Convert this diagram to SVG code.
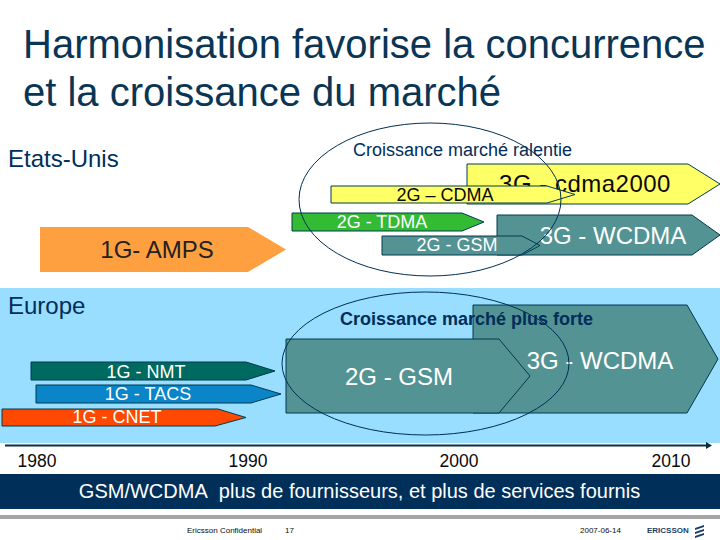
<svg xmlns="http://www.w3.org/2000/svg" width="720" height="540" viewBox="0 0 720 540">
<style>
text{font-family:"Liberation Sans",Arial,sans-serif}
.dk{fill:#002e5a}
.blk{fill:#0a0a0a}
.wh{fill:#fff}
.ar{stroke:#003a50;stroke-width:1}
.yl{fill:#ffff66}
.tl{fill:#549393}
.el{fill:none;stroke:#003056;stroke-width:1}
.m{text-anchor:middle}
</style>
<rect width="720" height="540" fill="#fff"/>
<rect x="0" y="288" width="720" height="155" fill="#99ddff"/>
<rect x="0" y="474" width="720" height="35" fill="#00305a"/>
<rect x="0" y="515" width="720" height="4" fill="#a5a5a5"/>
<g id="title"><text x="23" y="58" font-size="40" fill="#0a3555">Harmonisation favorise la concurrence</text><text x="23" y="106" font-size="40" fill="#0a3555">et la croissance du marché</text></g>
<g id="labels">
<text x="8" y="167" font-size="24" class="dk">Etats-Unis</text>
<text x="8" y="314" font-size="24" class="dk">Europe</text>
<text x="353" y="156" font-size="18" class="dk">Croissance marché ralentie</text>
</g>
<g id="n-1g-amps"><polygon fill="#ffa040" points="40,227 248,227 286,249.500 248,272 40,272"/><text x="157" y="258" font-size="24" class="m" fill="#222">1G- AMPS</text></g>
<g id="n-3g-cdma"><polygon class="ar yl" points="467,164 688,164 720,184 688,204 467,204"/><text x="585" y="192" font-size="24" class="m blk" letter-spacing=".5">3G - cdma2000</text></g>
<g id="n-2g-cdma"><polygon class="ar yl" points="331,186 547,186 575,194.500 547,203 331,203"/><text x="445" y="201" font-size="18" class="m blk">2G – CDMA</text></g>
<g id="n-2g-tdma"><polygon class="ar" fill="#33bb33" points="292,213 462,213 484,222 462,231 292,231"/><text x="382" y="228" font-size="18" class="m wh">2G - TDMA</text></g>
<g id="n-3g-wcdma-us"><polygon class="ar tl" points="497,215 692,215 720,235 692,255 497,255"/><text x="613" y="244" font-size="24" class="m wh">3G - WCDMA</text></g>
<g id="n-2g-gsm-us"><polygon class="ar tl" points="382,236 522,236 540,245.500 522,255 382,255"/><text x="457" y="251" font-size="18" class="m wh">2G - GSM</text></g>
<g id="n-1g-nmt"><polygon class="ar" fill="#006a60" points="31,362 246,362 275,371 246,380 31,380"/><text x="146" y="378" font-size="18" class="m wh">1G - NMT</text></g>
<g id="n-1g-tacs"><polygon class="ar" fill="#0a85c8" points="36,385 251,385 281,394 251,403 36,403"/><text x="148" y="400" font-size="18" class="m wh">1G - TACS</text></g>
<g id="n-1g-cnet"><polygon class="ar" fill="#ff4800" points="2,409 218,409 246,417.500 215,426 2,426"/><text x="117" y="423" font-size="18" class="m wh">1G - CNET</text></g>
<g id="n-3g-wcdma-eu"><polygon class="ar tl" points="473,305 687,305 718,359 687,413 473,413"/><text x="600" y="369" font-size="24" class="m wh">3G - WCDMA</text></g>
<g id="n-2g-gsm-eu"><polygon class="ar tl" points="286,339 499,339 530,376 499,413 286,413"/><text x="399" y="385" font-size="24" class="m wh">2G - GSM</text></g>
<text x="340" y="325" font-size="18" font-weight="bold" class="dk">Croissance marché plus forte</text>
<g id="connectors">
<ellipse class="el" cx="430" cy="199.500" rx="131" ry="76.500"/>
<ellipse class="el" cx="425.500" cy="363.500" rx="143.500" ry="71.500"/>
<line x1="5" y1="445.500" x2="708" y2="445.500" stroke="#0a3040" stroke-width="2"/>
<polygon points="706,442 712,445.500 706,449" fill="#0a3040"/>
</g>
<g id="years" font-size="17.500">
<text x="37" y="467" class="m blk">1980</text>
<text x="248" y="467" class="m blk">1990</text>
<text x="459" y="467" class="m blk">2000</text>
<text x="671" y="467" class="m blk">2010</text>
</g>
<text x="359.500" y="498" font-size="20" class="m wh">GSM/WCDMA&#160; plus de fournisseurs, et plus de services fournis</text>
<g id="footer" font-size="8" class="blk">
<text x="187" y="533">Ericsson Confidential</text>
<text x="285" y="533">17</text>
<text x="580" y="533">2007-06-14</text>
</g>
<g id="logo" fill="#1a3f6a">
<text x="647" y="533" font-size="8" font-weight="bold">ERICSSON</text>
<path d="M695 528l9-3v2l-9 3zM695 532l9-3v2l-9 3zM695 536l9-3v2l-9 3z"/>
</g>
</svg>
